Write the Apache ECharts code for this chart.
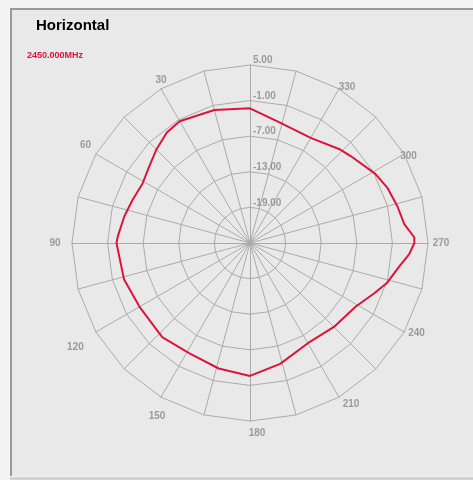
<!DOCTYPE html>
<html><head><meta charset="utf-8">
<script src="https://cdn.jsdelivr.net/npm/echarts@6/dist/echarts.min.js"></script>
<style>
html,body{margin:0;padding:0;width:473px;height:480px;overflow:hidden;background:#f4f4f4;}
#panel{position:absolute;left:10px;top:8px;width:463px;height:468px;background:#e9e9e9;border-left:2px solid #999;border-top:2px solid #999;box-sizing:border-box;}
#bottom{position:absolute;left:10px;top:476px;width:463px;height:4px;background:#d2d2d2;border-top:1px solid #f2f2f2;box-sizing:border-box;}
#chart{position:absolute;left:0;top:0;width:473px;height:480px;}
</style></head><body>
<div id="panel"></div><div id="bottom"></div><div id="chart"></div>
<script>
const angleLabels = ['', '', '30', '', '60', '', '90', '', '120', '', '150', '', '180', '', '210', '', '240', '', '270', '', '300', '', '330', ''];
const radialTicks = [-19, -13, -7, -1, 5];
const angles = [0, 15, 30, 37, 45, 53, 61, 70, 78, 87, 90, 106, 120, 137, 151, 166, 180, 194, 210, 225, 239, 248, 254, 261, 266, 270, 272, 277, 284, 292, 299, 311, 316, 330, 346, 360];
const gainDb = [-2.3, -1.8, -1.3, -1.7, -2.7, -3.7, -4.3, -3.9, -3.35, -2.7, -2.5, -2.9, -3.5, -3.3, -3.8, -3.2, -2.6, -4.0, -5.5, -5.0, -4.2, -2.4, -0.9, 0.45, 1.9, 2.7, 2.7, 1.2, 0.6, -0.05, -0.9, -2.6, -3.1, -4.55, -4.1, -2.3];

// label nudges (style only): [dx, dy] in px
const labelNudge = {
  '30': [6, 2], '60': [0, -3], '90': [-5, 0], '120': [-10, 9], '150': [2, 9],
  '180': [7, 0], '210': [6, -3], '240': [2, -5], '270': [1, 0], '300': [-6, 8], '330': [2, 9]
};
const rich = {};
Object.keys(labelNudge).forEach(k => {
  const [dx, dy] = labelNudge[k];
  rich['a' + k] = {
    padding: [dy > 0 ? 2 * dy : 0, dx < 0 ? -2 * dx : 0, dy < 0 ? -2 * dy : 0, dx > 0 ? 2 * dx : 0],
    color: '#9a9a9a', fontSize: 10, fontWeight: 'bold', fontFamily: 'Liberation Sans, Arial, sans-serif'
  };
});

const chart = echarts.init(document.getElementById('chart'), null, {renderer: 'canvas'});
const CENTER = [250, 243], R = 178;
const grayText = {color: '#9a9a9a', fontSize: 10, fontWeight: 'bold', fontFamily: 'Liberation Sans, Arial, sans-serif'};
chart.setOption({
  backgroundColor: 'transparent',
  animation: false,
  title: [
    {text: 'Horizontal', left: 36, top: 18, padding: 0,
     textStyle: {fontSize: 15, fontWeight: 'bold', color: '#000', fontFamily: 'Liberation Sans, Arial, sans-serif'}},
    {text: '2450.000MHz', left: 27, top: 51, padding: 0,
     textStyle: {fontSize: 9, fontWeight: 'bold', color: '#dc143c', fontFamily: 'Liberation Sans, Arial, sans-serif'}}
  ],
  radar: {
    center: CENTER, radius: R, startAngle: 90, shape: 'polygon', splitNumber: 5,
    indicator: angleLabels.map(n => ({name: n, min: -25, max: 5})),
    nameGap: 12,
    axisName: Object.assign({align: 'center', verticalAlign: 'middle', rich: rich,
      formatter: n => n ? '{a' + n + '|' + n + '}' : ''}, grayText),
    splitLine: {lineStyle: {color: '#aaaaaa', width: 1}},
    splitArea: {show: false},
    axisLine: {lineStyle: {color: '#aaaaaa', width: 1}},
    axisTick: {show: false},
    axisLabel: {show: false}
  },
  polar: {center: CENTER, radius: R},
  angleAxis: {type: 'value', min: 0, max: 360, startAngle: 90, clockwise: false,
    axisLine: {show: false}, axisTick: {show: false}, axisLabel: {show: false}, splitLine: {show: false}},
  radiusAxis: {type: 'value', min: -25, max: 5,
    axisLine: {show: false}, axisTick: {show: false}, splitLine: {show: false},
    axisLabel: Object.assign({show: true, customValues: radialTicks, formatter: v => v.toFixed(2),
      margin: -3, align: 'left', verticalAlign: 'bottom', lineHeight: 9}, grayText)},
  series: [{
    type: 'line', coordinateSystem: 'polar', symbol: 'none', smooth: false,
    lineStyle: {color: '#dc143c', width: 2},
    data: angles.map((a, i) => [gainDb[i], a]),
    z: 10
  }]
});
</script></body></html>
